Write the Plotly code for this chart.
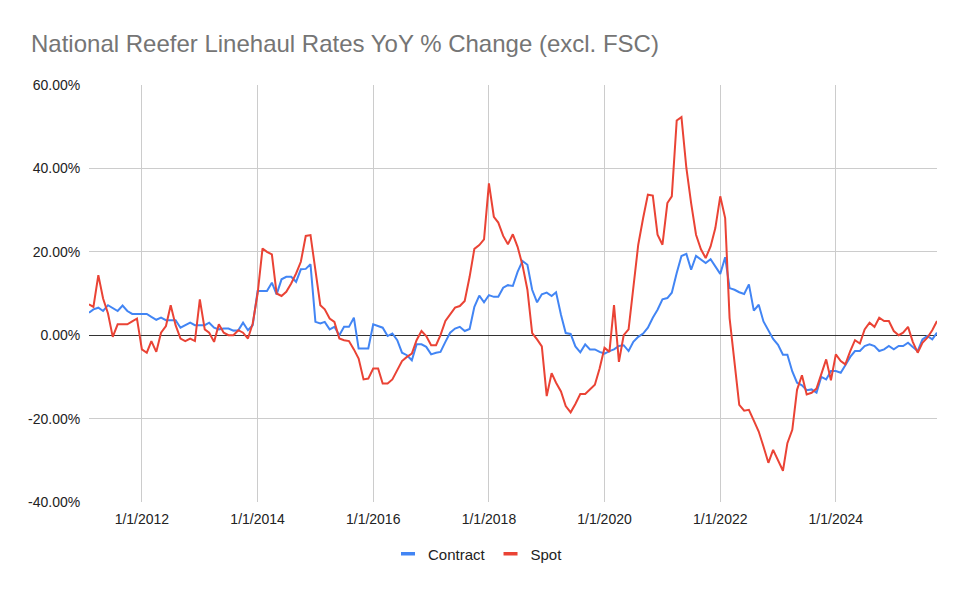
import pandas as pd
import plotly.graph_objects as go

# Monthly observations, Feb 2011 .. Oct 2025
months = pd.date_range("2011-02-01", periods=177, freq="MS")

contract = [
    5.4, 6.2, 6.6, 5.8, 7.2, 6.6, 5.8, 7.1, 5.8, 5.1, 5.1, 5.1, 5.1, 4.4, 3.7, 4.2, 3.6, 3.6, 3.6, 1.8,
    2.4, 3.0, 2.4, 2.4, 2.4, 3.0, 1.8, 1.4, 1.6, 1.6, 1.1,
    1.2, 3.0, 1.2, 2.4, 10.6, 10.6, 10.6, 12.6, 9.8, 13.4, 14.0, 14.0, 12.8, 15.8, 15.9, 17.0, 3.2, 2.8,
    3.2, 1.4, 2.0, 0.0, 2.0, 2.0, 4.2, -3.2, -3.2, -3.2, 2.6,
    2.2, 1.8, -0.2, 0.4, -1.2, -4.2, -4.8, -6.0, -2.2, -2.2, -2.8, -4.6, -4.2, -4.0, -1.6, 0.6, 1.6, 2.0,
    1.0, 1.5, 6.8, 9.5, 7.9, 9.6, 9.2, 9.2, 11.4, 12.0, 11.8, 15.2,
    17.8, 16.9, 10.9, 7.9, 9.8, 10.2, 9.4, 10.3, 4.9, 0.5, 0.3, -2.7, -4.1, -2.2, -3.4, -3.4, -4.0, -4.4,
    -3.8, -3.4, -2.6, -2.4, -3.8, -1.6, -0.4, 0.4, 1.8, 4.2, 6.1, 8.6,
    8.9, 10.2, 14.9, 19.0, 19.5, 15.7, 19.0, 18.1, 17.3, 18.2, 16.6, 14.7, 18.7, 11.3, 10.9, 10.3, 9.9,
    12.2, 5.9, 7.3, 3.3, 1.3, -0.9, -2.3, -4.7, -4.7, -8.7, -11.4,
    -12.0, -13.2, -13.0, -13.8, -10.0, -10.6, -8.6, -8.6, -9.0, -7.2, -5.2, -3.8, -3.8, -2.6, -2.2, -2.6,
    -3.8, -3.4, -2.6, -3.4, -2.6, -2.6, -1.8, -2.8, -3.8, -1.0, -0.2, -1.0, 0.6,
]

spot = [
    7.4, 6.8, 14.4, 8.8, 5.2, -0.4, 2.6, 2.6, 2.6, 3.3, 4.0, -3.4, -4.2, -1.4, -4.0, 0.6, 2.2, 7.2, 2.4,
    -0.8, -1.4, -0.8, -1.4, 8.6, 1.4, 0.6, -1.6, 2.6, 0.6, 0.0, 0.0,
    1.2, 0.6, -0.8, 2.8, 10.0, 20.8, 20.0, 19.4, 10.0, 9.4, 10.4, 12.4, 14.8, 17.6, 23.8, 24.0, 15.6, 7.2,
    6.2, 4.0, 3.2, -0.8, -1.2, -1.4, -3.4, -5.6, -10.6, -10.4, -8.0,
    -8.0, -11.6, -11.6, -10.6, -8.4, -6.2, -5.2, -4.4, -1.2, 1.0, -0.2, -2.4, -2.4, 0.0, 3.4, 5.0, 6.6,
    7.0, 8.2, 14.0, 20.7, 21.6, 23.0, 36.4, 28.4, 27.0, 23.8, 21.8, 24.2, 21.2,
    16.8, 10.9, 0.5, -1.0, -2.7, -14.6, -9.1, -11.4, -13.5, -17.0, -18.5, -16.5, -14.1, -14.1, -13.0,
    -11.9, -8.0, -3.0, -4.0, 7.2, -6.4, 0.0, 1.4, 12.1, 21.7, 28.1, 33.7, 33.5, 24.1, 21.7,
    31.7, 33.3, 51.5, 52.3, 40.1, 31.7, 24.1, 20.6, 18.5, 21.3, 25.7, 33.3, 28.1, 4.1, -6.7, -16.7, -18.1,
    -17.9, -20.5, -23.1, -26.7, -30.6, -27.5, -29.9, -32.5, -25.9, -22.7, -13.1,
    -9.6, -14.2, -13.8, -12.8, -9.2, -5.8, -10.8, -4.6, -6.2, -7.0, -3.8, -1.2, -2.0, 1.4, 3.0, 2.0, 4.2,
    3.4, 3.4, 1.0, 0.0, 0.6, 2.0, -1.6, -4.2, -1.8, -0.6, 1.2, 3.4,
]

x_tick_vals = ["2012-01-01", "2014-01-01", "2016-01-01", "2018-01-01",
               "2020-01-01", "2022-01-01", "2024-01-01"]
x_tick_text = ["1/1/2012", "1/1/2014", "1/1/2016", "1/1/2018",
               "1/1/2020", "1/1/2022", "1/1/2024"]
y_tick_vals = [-40, -20, 0, 20, 40, 60]
y_tick_text = ["-40.00%", "-20.00%", "0.00%", "20.00%", "40.00%", "60.00%"]

BLUE = "#4285F4"
RED = "#EA4335"
FONT = "Arial, 'Liberation Sans', sans-serif"
W, H = 967, 594
OFF = 8  # page body margin offset

fig = go.Figure()
fig.add_trace(go.Scatter(x=months, y=contract, mode="lines", name="Contract",
                         line=dict(color=BLUE, width=2), showlegend=False))
fig.add_trace(go.Scatter(x=months, y=spot, mode="lines", name="Spot",
                         line=dict(color=RED, width=2), showlegend=False))
# legend entries (short thick dash symbols)
fig.add_trace(go.Scatter(x=[None], y=[None], mode="markers", name="Contract",
                         marker=dict(symbol="line-ew", size=10, color=BLUE,
                                     line=dict(color=BLUE, width=3.5))))
fig.add_trace(go.Scatter(x=[None], y=[None], mode="markers", name="Spot",
                         marker=dict(symbol="line-ew", size=10, color=RED,
                                     line=dict(color=RED, width=3.5))))

fig.update_layout(
    width=W, height=H,
    margin=dict(l=89 - OFF, r=W + OFF - 937, t=85 - OFF, b=H + OFF - 502, autoexpand=False),
    paper_bgcolor="white", plot_bgcolor="white",
    font=dict(family=FONT, color="#222222", size=14),
    title=dict(text="National Reefer Linehaul Rates YoY % Change (excl. FSC)",
               x=(31 - OFF) / W, xanchor="left", xref="container",
               y=1 - (44 - OFF) / H, yanchor="middle", yref="container",
               font=dict(family=FONT, size=24, color="#757575")),
    legend=dict(orientation="h", x=(478 - OFF) / W, xref="container", xanchor="center",
                y=1 - (554 - OFF) / H, yref="container", yanchor="middle",
                font=dict(family=FONT, size=15, color="#222222"),
                itemwidth=30, tracegroupgap=0),
    showlegend=True,
)
fig.update_xaxes(
    type="date",
    range=[months[0], months[-1]],
    tickvals=x_tick_vals, ticktext=x_tick_text,
    showgrid=True, gridcolor="#CCCCCC", gridwidth=1,
    showline=False, zeroline=False,
    ticks="outside", ticklen=4, tickcolor="rgba(0,0,0,0)",
    tickfont=dict(family=FONT, size=14, color="#222222"),
)
fig.update_yaxes(
    range=[-40, 60],
    tickvals=y_tick_vals, ticktext=y_tick_text,
    showgrid=True, gridcolor="#CCCCCC", gridwidth=1,
    zeroline=True, zerolinecolor="#333333", zerolinewidth=1,
    showline=False,
    ticks="outside", ticklen=5, tickcolor="rgba(0,0,0,0)",
    tickfont=dict(family=FONT, size=14, color="#222222"),
)

fig.write_html("out.html")
